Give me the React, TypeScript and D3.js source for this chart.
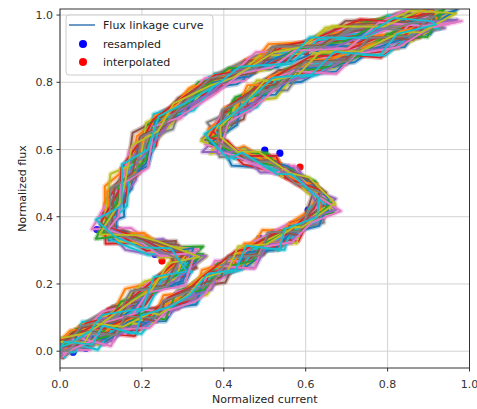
import React from "react";
import * as d3 from "d3";

// ---- data ----
const xTicks = [0, 0.2, 0.4, 0.6, 0.8, 1.0];
const yTicks = [0, 0.2, 0.4, 0.6, 0.8, 1.0];

// mean flux-linkage loop (normalized current, normalized flux), sampling A
const pathAX = [0.0, 0.05, 0.1, 0.15, 0.2, 0.25, 0.3, 0.35, 0.4, 0.45, 0.5, 0.55, 0.6, 0.655, 0.61, 0.55, 0.5, 0.43, 0.37, 0.4, 0.44, 0.5, 0.57, 0.65, 0.73, 0.81, 0.89, 0.95, 0.88, 0.78, 0.68, 0.58, 0.5, 0.43, 0.35, 0.28, 0.23, 0.19, 0.155, 0.125, 0.105, 0.17, 0.24, 0.33, 0.28, 0.22, 0.16, 0.1, 0.05, 0.0];
const pathAY = [0.01, 0.03, 0.05, 0.07, 0.09, 0.12, 0.16, 0.2, 0.245, 0.28, 0.315, 0.345, 0.38, 0.43, 0.5, 0.535, 0.562, 0.59, 0.612, 0.68, 0.735, 0.785, 0.825, 0.86, 0.89, 0.925, 0.96, 0.995, 0.995, 0.97, 0.935, 0.9, 0.865, 0.825, 0.78, 0.72, 0.66, 0.58, 0.5, 0.42, 0.36, 0.335, 0.31, 0.285, 0.23, 0.18, 0.13, 0.085, 0.045, 0.02];
// same loop, sampling B (points read between those of A)
const pathBX = [0.0, 0.025, 0.075, 0.125, 0.175, 0.225, 0.275, 0.325, 0.375, 0.425, 0.475, 0.525, 0.575, 0.63, 0.64, 0.58, 0.525, 0.465, 0.4, 0.38, 0.42, 0.47, 0.535, 0.61, 0.69, 0.77, 0.85, 0.92, 0.915, 0.83, 0.73, 0.63, 0.54, 0.465, 0.39, 0.315, 0.255, 0.21, 0.172, 0.14, 0.115, 0.135, 0.205, 0.285, 0.305, 0.25, 0.19, 0.13, 0.075, 0.025, 0.0];
const pathBY = [0.0, 0.02, 0.04, 0.06, 0.08, 0.105, 0.14, 0.18, 0.222, 0.263, 0.298, 0.33, 0.362, 0.405, 0.468, 0.518, 0.548, 0.576, 0.6, 0.645, 0.708, 0.762, 0.806, 0.843, 0.875, 0.908, 0.943, 0.978, 0.995, 0.983, 0.953, 0.918, 0.883, 0.845, 0.803, 0.752, 0.69, 0.62, 0.54, 0.46, 0.39, 0.347, 0.322, 0.298, 0.258, 0.205, 0.155, 0.107, 0.065, 0.032, 0.015];

// per-curve offsets (estimated spread of the bundle)
const shiftX = [0.008, -0.01, 0.001, -0.005, 0.012, -0.014, 0.004, -0.002, 0.009, -0.008, 0.013, -0.012, 0.0, 0.006, -0.004, 0.01, -0.009, 0.002, -0.013, 0.005, 0.014, -0.006, 0.001, -0.01, 0.008, -0.001, 0.012, -0.005, 0.004, -0.008];
const shiftY = [-0.009, 0.012, 0.005, -0.013, 0.002, 0.008, -0.005, 0.014, -0.01, 0.001, -0.006, 0.009, 0.013, -0.002, -0.012, 0.004, 0.01, -0.008, 0.006, -0.014, 0.0, 0.008, -0.004, 0.012, -0.009, 0.005, -0.013, 0.002, 0.01, -0.006];

// per-curve point deviations (digit codes, estimated)
const devX = [
  "4627354163 5274635284 6375246153 7264835274 6382547361",
  "3526473825 7463527486 3527364825 3746285374 6285364738",
  "7352846375 2647385264 7385263748 5263748526 3748526374",
  "5263748352 6473825364 2736485273 6482537461 5273648253",
  "6485273648 2736485264 7382546372 8463527384 6253748263",
  "2738465273 6482537462 8375264837 2645837264 5837264538",
  "4856372846 3527486352 7463528473 6528374652 8473652846",
  "3647285364 7283546372 8564738264 5738264753 8264573826",
  "5738462537 4826354736 2847365284 7362548372 6548372654",
  "6253748362 5473826354 7382645372 8465372846 5372846537",
  "4738256374 8263547382 6547382564 7382654738 2654738265",
  "3857264738 5264738526 4738526473 8526473852 6473852647",
  "7264853726 4853726485 3726485372 6485372648 5372648537",
  "5384726538 4726538472 6538472653 8472653847 2653847265",
  "6537284653 7284653728 4653728465 3728465372 8465372846",
  "5374625384 7364536274 8365748364 5273648574 6354827364",
  "3648574635 2746385746 3857463527 4635748365 2748365746",
  "5847362548 3657482635 7483625748 5364728563 7485637482",
  "4736582746 3857264835 7462853746 2857364825 7364852736",
  "6374852637 4825637485 2637485263 7485263748 5263748526",
  "3746528374 6583746528 3746582637 4658273645 8372645827",
  "5462738465 2837465283 7456283746 5827364582 7364528736",
  "4857362548 3726485736 2548736254 8372654837 2658473625",
  "6273845627 3845627384 5627384562 7384562738 4562738456",
  "3758463728 5647382564 7382564738 2564738256 4738256473",
  "5836472583 6472583647 2583647258 3647258364 7258364725",
  "4372658437 2658437265 8437265843 7265843726 5843726584",
  "6548372654 8372654837 2654837265 4837265483 7265483726",
  "4625837462 5837462583 7462583746 2583746258 3746258374",
  "5473826547 3826547382 6547382654 7382654738 2654738265",
];
const devY = [
  "5374628453 6285374162 4735284637 5162735846 2735184627",
  "6483527364 8275364827 3546283715 4627384652 7364852736",
  "2837465283 7462538472 6385274638 5273648527 3648527364",
  "4736285736 4827365482 7364825736 2847365284 6375284736",
  "3628473625 3748263547 2836475382 6473825364 7382536472",
  "7463825374 6253847362 5384736254 8372645836 2548372654",
  "5283746528 3746283547 6382547362 8473625847 3625487362",
  "6374825364 7285364728 5364728536 4728536472 8536472853",
  "4628375264 8357264835 7264835726 4835726483 5726483572",
  "3746528374 6528374652 8374652837 4652837465 2837465283",
  "5627384652 7384652738 4652738465 2738465273 8465273846",
  "6284735627 4836257483 6257483625 7483625748 3625748362",
  "4573826457 3826457382 6457382645 7382645738 2645738264",
  "2746385274 6385274638 5274638527 4638527463 8527463852",
  "3857462385 7462385746 2385746238 5746238574 6238574623",
  "4658374625 3748564736 2847563748 5637485736 4857364857",
  "6375846372 5847362548 3746528475 6374825637 4856374826",
  "3527486354 7263548736 4827365472 8364752836 4758364725",
  "5846372857 4635827463 5728463574 8263547284 6357482635",
  "4827365274 8365274836 5274836527 4836527483 6527483652",
  "5738462857 3648275364 8273564837 2654738264 5738264573",
  "6283746582 7364825736 4827365482 7365482736 5482736548",
  "3645827364 5827365482 7364582736 4528736458 2736458273",
  "5384726538 4726538472 6538472653 8472653847 2653847265",
  "4627385462 7385462738 5462738546 2738546273 8546273854",
  "6473825647 3825647382 5647382564 7382564738 2564738256",
  "3826475382 6475382647 5382647538 2647538264 7538264753",
  "5273846527 3846527384 6527384652 7384652738 4652738465",
  "6384725638 4725638472 5638472563 8472563847 2563847256",
  "4738265473 8265473826 5473826547 3826547382 6547382654",
];

// scatter points
const resampledX = [0.032, 0.063, 0.09, 0.232, 0.195, 0.38, 0.415, 0.48, 0.5, 0.537, 0.488, 0.513, 0.606, 0.15, 0.3, 0.6, 0.7, 0.85, 0.3, 0.14];
const resampledY = [-0.003, 0.009, 0.362, 0.288, 0.6, 0.662, 0.712, 0.772, 0.598, 0.589, 0.336, 0.341, 0.42, 0.07, 0.16, 0.38, 0.88, 0.95, 0.74, 0.46];
const interpolatedX = [0.249, 0.586, 0.532, 0.383, 0.1, 0.4, 0.62, 0.6, 0.2, 0.2, 0.9];
const interpolatedY = [0.268, 0.548, 0.354, 0.649, 0.05, 0.24, 0.47, 0.89, 0.63, 0.32, 0.98];

const palette = ["#1f77b4", "#ff7f0e", "#2ca02c", "#d62728", "#9467bd", "#8c564b", "#e377c2", "#7f7f7f", "#bcbd22", "#17becf"];
const legendLabels = ["Flux linkage curve", "resampled", "interpolated"];

// ---- layout ----
const W = 477, H = 409;
const left = 60, right = 469.5;
const top = 9, bottom = 368;
const xMin = 0, xMax = 1.0;
const yMin = -0.05, yMax = 1.018;

export default function App() {
  const x = d3.scaleLinear().domain([xMin, xMax]).range([left, right]);
  const y = d3.scaleLinear().domain([yMin, yMax]).range([bottom, top]);
  const font = "DejaVu Sans, sans-serif";

  const decode = (s: string) => s.replace(/ /g, "").split("").map((c) => +c - 5);
  const curves = devX.map((sx, k) => {
    const dx = decode(sx);
    const dy = decode(devY[k]);
    const px = k % 2 === 0 ? pathAX : pathBX;
    const py = k % 2 === 0 ? pathAY : pathBY;
    return px.map((v, i) => [
      v + shiftX[k] + (dx[i] ?? 0) * 0.0062,
      py[i] + shiftY[k] + (dy[i] ?? 0) * 0.0072,
    ] as [number, number]);
  });
  const line = d3.line<[number, number]>().x((d) => x(d[0])).y((d) => y(d[1]));

  return (
    <svg width={W} height={H} style={{ position: "absolute", left: 0, top: 0, background: "#fff" }} fontFamily={font}>
      <defs>
        <clipPath id="plotclip">
          <rect x={left} y={top} width={right - left} height={bottom - top} />
        </clipPath>
      </defs>
      {xTicks.map((t) => (
        <line key={"gx" + t} x1={x(t)} x2={x(t)} y1={top} y2={bottom} stroke="#d2d2d2" strokeWidth={1} />
      ))}
      {yTicks.map((t) => (
        <line key={"gy" + t} x1={left} x2={right} y1={y(t)} y2={y(t)} stroke="#d2d2d2" strokeWidth={1} />
      ))}
      <g clipPath="url(#plotclip)">
        {resampledX.map((v, i) => (
          <circle key={"r" + i} cx={x(v)} cy={y(resampledY[i])} r={3.6} fill="#0000ff" />
        ))}
        {interpolatedX.map((v, i) => (
          <circle key={"i" + i} cx={x(v)} cy={y(interpolatedY[i])} r={3.6} fill="#ff0000" />
        ))}
        {curves.map((c, k) => (
          <path key={"h" + k} d={line(c) || ""} fill="none" stroke={palette[k % 10]} strokeWidth={5} strokeOpacity={0.35} strokeLinejoin="round" />
        ))}
        {curves.map((c, k) => (
          <path key={"c" + k} d={line(c) || ""} fill="none" stroke={palette[k % 10]} strokeWidth={1.9} strokeLinejoin="round" />
        ))}
      </g>
      <rect x={left} y={top} width={right - left} height={bottom - top} fill="none" stroke="#333" strokeWidth={1} />
      {xTicks.map((t) => (
        <g key={"xt" + t}>
          <line x1={x(t)} x2={x(t)} y1={bottom} y2={bottom + 3.5} stroke="#333" />
          <text x={x(t)} y={388} textAnchor="middle" fontSize={11} fill="#333">{t.toFixed(1)}</text>
        </g>
      ))}
      {yTicks.map((t) => (
        <g key={"yt" + t}>
          <line x1={left - 3.5} x2={left} y1={y(t)} y2={y(t)} stroke="#333" />
          <text x={53} y={y(t) + 4} textAnchor="end" fontSize={11} fill="#333">{t.toFixed(1)}</text>
        </g>
      ))}
      <text x={(left + right) / 2} y={403} textAnchor="middle" fontSize={11} fill="#222">Normalized current</text>
      <text transform={`translate(25.5,${(top + bottom) / 2}) rotate(-90)`} textAnchor="middle" fontSize={11} fill="#222">Normalized flux</text>
      <rect x={66} y={15} width={147} height={60} rx={3} fill="#fff" fillOpacity={0.85} stroke="#cccccc" />
      <line x1={69} x2={95} y1={25} y2={25} stroke="#5b8fc0" strokeWidth={1.8} />
      <circle cx={83} cy={44} r={4} fill="#0000ff" />
      <circle cx={83} cy={62} r={4} fill="#ff0000" />
      {legendLabels.map((l, i) => (
        <text key={l} x={103} y={[25, 44, 62][i] + 4} fontSize={11} fill="#222">{l}</text>
      ))}
    </svg>
  );
}
